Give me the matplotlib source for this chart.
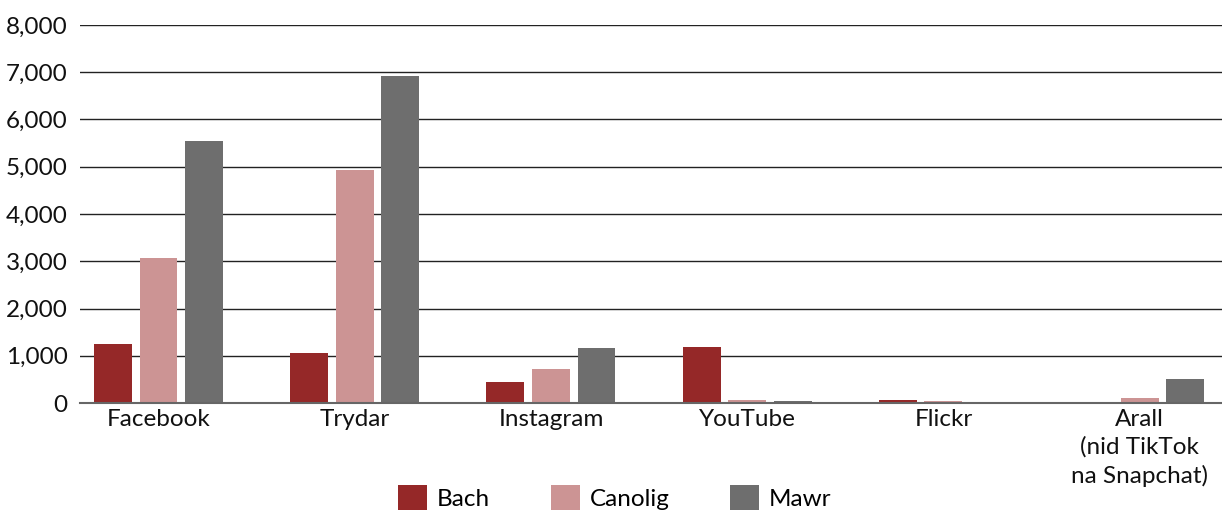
import numpy as np
import matplotlib.pyplot as plt

plt.rcParams['font.family'] = ['Lato', 'DejaVu Sans']
plt.rcParams['font.size'] = 17.5

# Data
platforms = ['Facebook', 'Trydar', 'Instagram', 'YouTube', 'Flickr',
             'Arall\n(nid TikTok\nna Snapchat)']
bach = [1250, 1050, 440, 1190, 60, 0]
canolig = [3070, 4930, 720, 70, 50, 100]
mawr = [5540, 6920, 1160, 40, 0, 500]

series = ['Bach', 'Canolig', 'Mawr']
colors = ['#952828', '#cc9494', '#6e6e6e']

fig = plt.figure(figsize=(12.22, 5.13), dpi=100)
ax = fig.add_axes([0.0655, 0.2144, 0.9345, 0.7369])

x = np.arange(len(platforms))
w = 0.193
step = 0.232
for i, (vals, name, col) in enumerate(zip([bach, canolig, mawr], series, colors)):
    ax.bar(x + (i - 1) * step, vals, width=w, color=col, label=name, zorder=3)

ax.set_ylim(0, 8000)
ax.set_xlim(-0.4, 5.42)
ax.set_yticks(np.arange(0, 8001, 1000))
ax.set_yticklabels(['{:,}'.format(v) for v in range(0, 8001, 1000)])
ax.set_xticks(x)
ax.set_xticklabels(platforms, linespacing=1.38, va='top')
ax.tick_params(axis='y', length=0, pad=9, colors='#111111')
ax.tick_params(axis='x', length=0, pad=4, colors='#111111')
ax.grid(axis='y', color='#222222', linewidth=1, zorder=0)
for s in ['top', 'right', 'left']:
    ax.spines[s].set_visible(False)
ax.spines['bottom'].set_color('#666666')
ax.spines['bottom'].set_linewidth(1.5)
ax.spines['bottom'].set_zorder(4)

fig.legend(loc='upper center', bbox_to_anchor=(0.503, 0.078), ncol=3,
           frameon=False, handlelength=1.2, handleheight=1.2,
           handletextpad=0.4, columnspacing=2.5, borderpad=0)

fig.savefig('out.png', dpi=100)
